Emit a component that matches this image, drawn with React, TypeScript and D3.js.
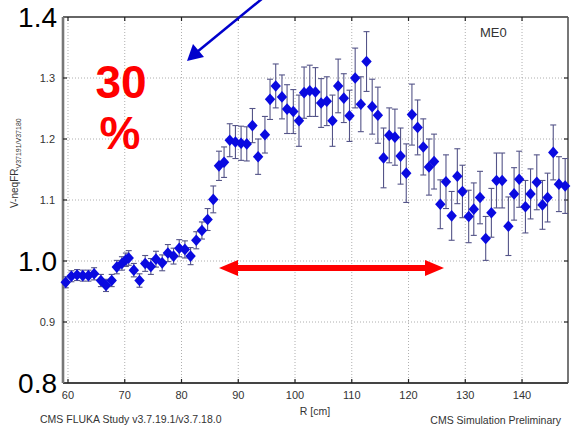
import React from "react";
import * as d3 from "d3";

const R_CM = [59.6, 60.6, 61.6, 62.6, 63.6, 64.6, 65.8, 66.7, 67.7, 68.6, 69.5, 70.2, 70.7, 71.6, 72.6, 73.6, 74.6, 75.5, 76.6, 77.6, 78.6, 79.6, 80.6, 81.6, 82.6, 83.6, 84.6, 85.6, 86.6, 87.5, 88.5, 89.5, 90.5, 91.5, 92.5, 93.5, 94.7, 95.6, 96.6, 97.7, 98.6, 99.7, 100.7, 101.6, 102.6, 103.6, 104.6, 105.6, 106.6, 107.6, 108.6, 109.6, 110.6, 111.6, 112.6, 113.6, 114.6, 115.6, 116.6, 117.6, 118.6, 119.6, 120.6, 121.6, 122.6, 123.6, 124.5, 125.6, 126.6, 127.6, 128.6, 129.5, 130.6, 131.5, 132.6, 133.6, 134.6, 135.5, 136.5, 137.6, 138.6, 139.5, 140.6, 141.5, 142.6, 143.6, 144.5, 145.5, 146.5, 147.6];
const RATIO = [0.965, 0.975, 0.977, 0.976, 0.976, 0.979, 0.968, 0.960, 0.968, 0.990, 0.996, 1.002, 1.005, 0.985, 0.968, 0.996, 0.991, 1.003, 0.997, 1.013, 1.008, 1.021, 1.019, 1.008, 1.034, 1.050, 1.068, 1.101, 1.156, 1.162, 1.198, 1.195, 1.193, 1.192, 1.222, 1.171, 1.207, 1.265, 1.287, 1.269, 1.249, 1.245, 1.230, 1.276, 1.279, 1.277, 1.259, 1.262, 1.230, 1.287, 1.267, 1.238, 1.300, 1.257, 1.327, 1.253, 1.239, 1.169, 1.206, 1.203, 1.172, 1.144, 1.240, 1.219, 1.187, 1.154, 1.163, 1.093, 1.130, 1.074, 1.139, 1.114, 1.073, 1.085, 1.104, 1.037, 1.079, 1.132, 1.132, 1.057, 1.110, 1.134, 1.089, 1.110, 1.129, 1.092, 1.104, 1.178, 1.126, 1.123];
const ERR = [0.009, 0.009, 0.009, 0.009, 0.009, 0.010, 0.010, 0.010, 0.010, 0.011, 0.011, 0.011, 0.012, 0.011, 0.011, 0.013, 0.013, 0.013, 0.013, 0.014, 0.013, 0.014, 0.014, 0.014, 0.014, 0.014, 0.018, 0.022, 0.024, 0.025, 0.027, 0.027, 0.028, 0.028, 0.028, 0.029, 0.030, 0.033, 0.036, 0.036, 0.040, 0.036, 0.042, 0.042, 0.042, 0.040, 0.040, 0.040, 0.042, 0.044, 0.040, 0.042, 0.049, 0.045, 0.049, 0.045, 0.046, 0.049, 0.045, 0.046, 0.046, 0.048, 0.050, 0.045, 0.046, 0.046, 0.045, 0.040, 0.044, 0.040, 0.045, 0.043, 0.043, 0.043, 0.043, 0.036, 0.040, 0.045, 0.045, 0.048, 0.043, 0.046, 0.043, 0.041, 0.045, 0.040, 0.040, 0.045, 0.045, 0.045];

const X_TICKS = [60, 70, 80, 90, 100, 110, 120, 130, 140];
const Y_TICKS_SMALL = [0.9, 1.1, 1.2, 1.3];
const Y_TICKS_ALL = [0.9, 1.0, 1.1, 1.2, 1.3];
const Y_BIG_LABELS = ["1.4", "1.0", "0.8"];
const Y_BIG_VALUES = [1.4, 1.0, 0.8];

export default function App() {
  const W = 578, H = 434;
  const left = 63, right = 568, top = 17, bottom = 383;
  const x = d3.scaleLinear().domain([59.12, 148.1]).range([left, right]);
  const y = d3.scaleLinear().domain([0.8, 1.4]).range([bottom, top]);
  const font = "'Liberation Sans', Arial, Helvetica, sans-serif";
  const diamond = (cx: number, cy: number) =>
    `M${cx},${cy - 5.8} L${cx + 5.2},${cy} L${cx},${cy + 5.8} L${cx - 5.2},${cy} Z`;

  return (
    <svg width={W} height={H} style={{ position: "absolute", left: 0, top: 0, background: "#fff" }} fontFamily={font}>
      <rect x={0} y={0} width={W} height={H} fill="#fff" />
      {X_TICKS.map((t) => (
        <line key={"gx" + t} x1={x(t)} x2={x(t)} y1={top} y2={bottom} stroke="#9a9a9a" strokeWidth={0.8} strokeDasharray="1,2" />
      ))}
      {Y_TICKS_ALL.map((t) => (
        <line key={"gy" + t} x1={left} x2={right} y1={y(t)} y2={y(t)} stroke="#9a9a9a" strokeWidth={0.8} strokeDasharray="1,2" />
      ))}
      <line x1={left} x2={right} y1={top} y2={top} stroke="#333" strokeWidth={1.6} />
      <line x1={right} x2={right} y1={top} y2={bottom} stroke="#555" strokeWidth={1.6} />
      <line x1={left} x2={right} y1={bottom} y2={bottom} stroke="#444" strokeWidth={2} />
      <line x1={left} x2={left} y1={top} y2={bottom} stroke="#777" strokeWidth={2.6} />
      {X_TICKS.map((t) => (
        <g key={"tx" + t}>
          <line x1={x(t)} x2={x(t)} y1={top} y2={top + 4} stroke="#222" strokeWidth={1.2} />
          <line x1={x(t)} x2={x(t)} y1={bottom} y2={bottom - 4} stroke="#222" strokeWidth={1.2} />
          <text x={x(t)} y={399} fontSize={11} fill="#333" textAnchor="middle">{t}</text>
        </g>
      ))}
      {Y_TICKS_ALL.map((t) => (
        <g key={"ty" + t}>
          <line x1={left} x2={left + 4} y1={y(t)} y2={y(t)} stroke="#222" strokeWidth={1.2} />
          <line x1={right} x2={right - 4} y1={y(t)} y2={y(t)} stroke="#222" strokeWidth={1.2} />
        </g>
      ))}
      {Y_TICKS_SMALL.map((t) => (
        <text key={"yl" + t} x={55} y={y(t) + 4} fontSize={11} fill="#333" textAnchor="end">{t.toFixed(1)}</text>
      ))}
      {Y_BIG_LABELS.map((s, i) => (
        <text key={"big" + s} x={57} y={y(Y_BIG_VALUES[i]) + 10} fontSize={28} fill="#000" textAnchor="end">{s}</text>
      ))}
      {R_CM.map((r, i) => {
        const cx = x(r);
        const y1 = y(RATIO[i] + ERR[i]);
        const y2 = y(RATIO[i] - ERR[i]);
        return (
          <g key={"e" + i} stroke="#545488" strokeWidth={1.1}>
            <line x1={cx} x2={cx} y1={y1} y2={y2} />
            <line x1={cx - 3} x2={cx + 3} y1={y1} y2={y1} />
            <line x1={cx - 3} x2={cx + 3} y1={y2} y2={y2} />
          </g>
        );
      })}
      {R_CM.map((r, i) => (
        <path key={"m" + i} d={diamond(x(r), y(RATIO[i]))} fill="#0a0ae0" />
      ))}
      <text x={315} y={415} fontSize={10.5} fill="#333" textAnchor="middle">R [cm]</text>
      <text x={40} y={423} fontSize={10.5} fill="#333">CMS FLUKA Study v3.7.19.1/v3.7.18.0</text>
      <text x={561} y={424} fontSize={10.5} fill="#333" textAnchor="end">CMS Simulation Preliminary</text>
      <text x={480} y={37} fontSize={13} fill="#333">ME0</text>
      <text transform="translate(18,208) rotate(-90)" fontSize={10} fill="#333">
        V-neqFR<tspan fontSize={7} dy={3}>V37191/V37180</tspan>
      </text>
      <text x={121} y={98} fontSize={46} fontWeight="bold" fill="#ff0000" textAnchor="middle">30</text>
      <text x={120} y={149} fontSize={46} fontWeight="bold" fill="#ff0000" textAnchor="middle">%</text>
      <line x1={263} y1={-2} x2={197} y2={52} stroke="#0000cc" strokeWidth={2.5} />
      <path d="M187,61 L193,44 L204,57 Z" fill="#0000cc" />
      <line x1={236} x2={427} y1={268} y2={268} stroke="#ff0000" strokeWidth={6} />
      <path d="M219,268 L238,260 L238,276 Z" fill="#ff0000" />
      <path d="M444,268 L425,260 L425,276 Z" fill="#ff0000" />
    </svg>
  );
}
